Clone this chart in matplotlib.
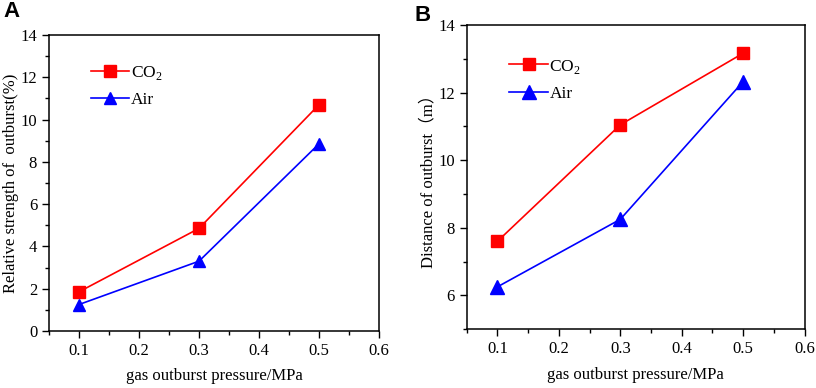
import matplotlib
matplotlib.use('Agg')
import matplotlib.pyplot as plt
from matplotlib.ticker import MultipleLocator

plt.rcParams['font.family'] = ['Liberation Serif', 'Noto Sans CJK SC']
plt.rcParams['mathtext.fontset'] = 'custom'
plt.rcParams['mathtext.rm'] = 'Liberation Serif'

pressure = [0.1, 0.3, 0.5]
strength_co2 = [1.85, 4.85, 10.7]
strength_air = [1.25, 3.3, 8.85]
distance_co2 = [7.6, 11.05, 13.17]
distance_air = [6.25, 8.25, 12.33]

fig = plt.figure(figsize=(8.16, 3.88), dpi=100)
ax1 = fig.add_axes([0.060, 0.147, 0.4045, 0.763])
ax2 = fig.add_axes([0.572, 0.152, 0.414, 0.783])


def style_axes(ax, ylim, ymajor):
    ax.set_xlim(0.05, 0.6)
    ax.set_ylim(*ylim)
    ax.xaxis.set_major_locator(MultipleLocator(0.1))
    ax.xaxis.set_minor_locator(MultipleLocator(0.05))
    ax.yaxis.set_major_locator(MultipleLocator(ymajor))
    ax.yaxis.set_minor_locator(MultipleLocator(1))
    ax.tick_params(which='both', direction='out', top=False, right=False, labelsize=12)
    ax.tick_params(which='major', length=5, width=1)
    ax.tick_params(which='minor', length=3, width=1)
    for s in ax.spines.values():
        s.set_linewidth(1.1)
    ax.set_xlabel('gas outburst pressure/MPa', fontsize=12, labelpad=7)


# A
ax1.plot(pressure, strength_co2, color='red', marker='s', markersize=8, lw=1.2, label='CO$_2$')
ax1.plot(pressure, strength_air, color='blue', marker='^', markersize=9, lw=1.2, label='Air')
style_axes(ax1, (0, 14), 2)
ax1.set_ylabel('Relative strength of  outburst(%)', fontsize=12, labelpad=1)
ax1.legend(loc='upper left', bbox_to_anchor=(0.08, 0.955), frameon=False, fontsize=12.5,
           handlelength=2.2, handletextpad=0.1, labelspacing=0.6)
fig.text(0.004, 0.955, 'A', family='Liberation Sans', weight='bold', fontsize=16)

# B
ax2.plot(pressure, distance_co2, color='red', marker='s', markersize=9, lw=1.2, label='CO$_2$')
ax2.plot(pressure, distance_air, color='blue', marker='^', markersize=10, lw=1.2, label='Air')
style_axes(ax2, (5, 14), 2)
ax2.set_yticks([6, 8, 10, 12, 14])
ax2.set_ylabel('Distance of outburst（m）', fontsize=12, labelpad=1)
ax2.legend(loc='upper left', bbox_to_anchor=(0.08, 0.945), frameon=False, fontsize=12.5,
           handlelength=2.2, handletextpad=0.1, labelspacing=0.6)
fig.text(0.508, 0.945, 'B', family='Liberation Sans', weight='bold', fontsize=16)

fig.savefig('out.png', dpi=100)
